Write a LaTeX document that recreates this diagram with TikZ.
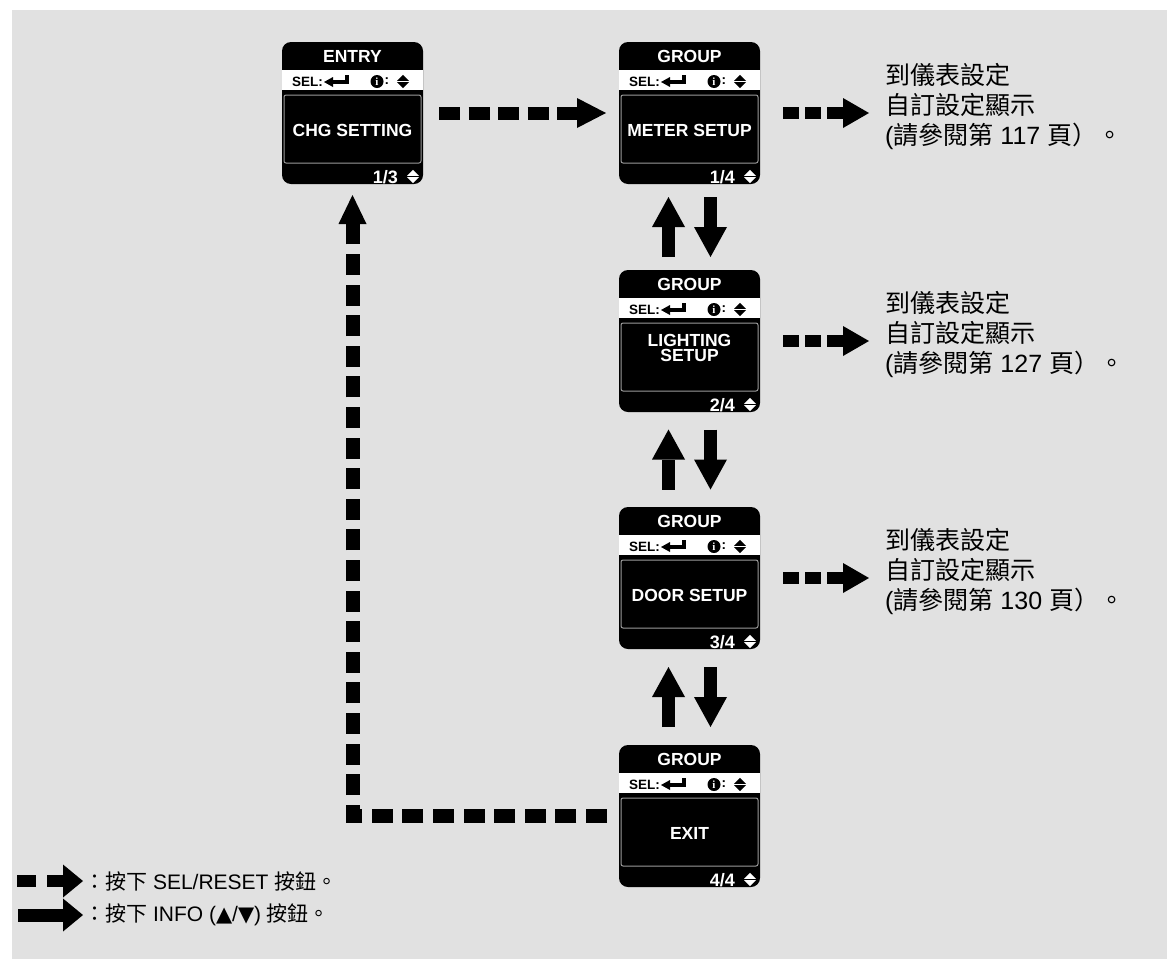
\documentclass[tikz,border=0pt]{standalone}
\usepackage{fontspec}
\setmainfont{Liberation Sans}
\newfontfamily\cjk{Noto Sans CJK TC}
\newfontfamily\symf{DejaVu Sans}
\newfontfamily\iserif{Liberation Serif}
\usetikzlibrary{arrows.meta,calc}
\definecolor{bggray}{HTML}{E1E1E1}
\definecolor{boxline}{HTML}{9A9A9A}
\tikzset{
  screenbox/.style={draw=none, fill=black, rounded corners=9pt, minimum width=141pt, minimum height=142pt, inner sep=0pt, outer sep=0pt},
  titletext/.style={text=white, font=\fontsize{17.5}{18}\selectfont\bfseries, inner sep=0pt},
  bodytext/.style={text=white, font=\fontsize{17.5}{15.5}\selectfont\bfseries, align=center, inner sep=0pt},
  seltext/.style={text=black, font=\fontsize{13.5}{14}\selectfont\bfseries, inner sep=0pt, anchor=west},
  pagetext/.style={text=white, font=\fontsize{18}{18}\selectfont\bfseries, inner sep=0pt, anchor=base east},
  innerline/.style={draw=boxline, line width=1pt, fill=black, rounded corners=2pt},
  dasharrow/.style={line width=13pt, dash pattern=on 21pt off 8.5pt, -{Triangle[width=30pt,length=29pt,line width=0pt]}},
  sidearrow/.style={line width=12.5pt, dash pattern=on 16pt off 6pt, -{Triangle[width=30pt,length=26pt,line width=0pt]}},
  solidarrow/.style={line width=12.5pt, -{Triangle[width=33pt,length=30pt,line width=0pt]}},
  note/.style={font=\fontsize{25}{30}\selectfont, align=left, anchor=west, inner sep=0pt},
  legendtext/.style={font=\fontsize{21}{21}\selectfont, anchor=west, inner sep=0pt},
}
\newcommand\updownsym[2]{%
  \fill[#2] ($#1+(-6,-0.7)$) -- ++(12,0) -- ++(-6,-6) -- cycle;
  \fill[#2] ($#1+(-6,0.7)$) -- ++(12,0) -- ++(-6,6) -- cycle;}
\newcommand\drawscreen[7]{%
  \node[screenbox] (#1) at (#2+70.5,#3+71) {};
  \begin{scope}[shift={(#1.north west)}]
    \fill[white] (0,28) rectangle (141,48);
    \draw[innerline] (2,53) rectangle (139,121);
    \node[titletext] at (70.5,14) {#4};
    \node[seltext] at (10,39.5) {SEL:};
    \fill[black] (42,40) -- (51,35) -- (51,45) -- cycle;
    \fill[black] (51,38) rectangle (66.5,42);
    \fill[black] (62.5,33) rectangle (66.5,42);
    \fill[black] (95,39.5) circle (6.5);
    \node[text=white, font=\iserif\fontsize{11}{11}\selectfont\bfseries, inner sep=0pt] at (95,39.5) {i};
    \node[seltext] at (102.5,39.5) {:};
    \updownsym{(121,39.5)}{black}
    \node[bodytext] at (70.5,#7) {#5};
    \begin{scope}
      \clip[rounded corners=9pt] (0,0) rectangle (141,142);
      \node[pagetext] at (116,141.5) {#6};
    \end{scope}
    \updownsym{(131,134.5)}{white}
  \end{scope}}
\begin{document}
\begin{tikzpicture}[x=1pt,y=-1pt]
\useasboundingbox (0,0) rectangle (1167,959);
\fill[white] (0,0) rectangle (1167,959);
\fill[bggray] (12,10) rectangle (1167,959);

\drawscreen{entry}{282}{42}{ENTRY}{CHG SETTING}{1/3}{88}
\drawscreen{meter}{619}{42}{GROUP}{METER SETUP}{1/4}{88}
\drawscreen{lighting}{619}{270}{GROUP}{LIGHTING\\SETUP}{2/4}{78}
\drawscreen{door}{619}{507}{GROUP}{DOOR SETUP}{3/4}{88}
\drawscreen{exit}{619}{745}{GROUP}{EXIT}{4/4}{88}

% notes
\node[note] (t1) at (885,106) {{\cjk 到儀表設定}\\{\cjk 自訂設定顯示}\\({\cjk 請參閱第} 117 {\cjk 頁）。}};
\node[note] (t2) at (885,334) {{\cjk 到儀表設定}\\{\cjk 自訂設定顯示}\\({\cjk 請參閱第} 127 {\cjk 頁）。}};
\node[note] (t3) at (885,571) {{\cjk 到儀表設定}\\{\cjk 自訂設定顯示}\\({\cjk 請參閱第} 130 {\cjk 頁）。}};

% SEL/RESET arrows
\draw[dasharrow, shorten <=16pt, shorten >=13pt] (entry.east) -- (meter.west);
\draw[sidearrow, shorten <=23pt, shorten >=16pt] (meter.east) -- (meter.east -| t1.west);
\draw[sidearrow, shorten <=23pt, shorten >=16pt] (lighting.east) -- (lighting.east -| t2.west);
\draw[sidearrow, shorten <=23pt, shorten >=16pt] (door.east) -- (door.east -| t3.west);
\coordinate (loopcorner) at (exit.west -| entry.south);
\draw[line width=14pt, dash pattern=on 21pt off 9.6pt, -{Triangle[width=28pt,length=29pt,line width=0pt]}, shorten <=12pt, shorten >=11pt] (exit.west) -- (loopcorner) -- (entry.south);

% INFO arrows
\draw[solidarrow, shorten <=13pt, shorten >=13pt] ([xshift=-21pt]lighting.north) -- ([xshift=-21pt]meter.south);
\draw[solidarrow, shorten <=13pt, shorten >=13pt] ([xshift=21pt]meter.south) -- ([xshift=21pt]lighting.north);
\draw[solidarrow, shorten <=17.5pt, shorten >=17.5pt] ([xshift=-21pt]door.north) -- ([xshift=-21pt]lighting.south);
\draw[solidarrow, shorten <=17.5pt, shorten >=17.5pt] ([xshift=21pt]lighting.south) -- ([xshift=21pt]door.north);
\draw[solidarrow, shorten <=18pt, shorten >=18pt] ([xshift=-21pt]exit.north) -- ([xshift=-21pt]door.south);
\draw[solidarrow, shorten <=18pt, shorten >=18pt] ([xshift=21pt]door.south) -- ([xshift=21pt]exit.north);

% legend
\coordinate (l1s) at (17,881);
\coordinate (l1e) at (83,881);
\coordinate (l2s) at (18,915);
\coordinate (l2e) at (83,915);
\draw[line width=12pt, dash pattern=on 19pt off 11pt, -{Triangle[width=33pt,length=20pt,line width=0pt]}] (l1s) -- (l1e);
\draw[line width=13pt, -{Triangle[width=33pt,length=20pt,line width=0pt]}] (l2s) -- (l2e);
\node[legendtext] (leg1) at (84,881) {{\cjk ：按下} SEL/RESET {\cjk 按鈕。}};
\node[legendtext] (leg2) at (84,915) {{\cjk ：按下} INFO ({\symf ▲}/{\symf ▼}) {\cjk 按鈕。}};
\end{tikzpicture}
\end{document}
